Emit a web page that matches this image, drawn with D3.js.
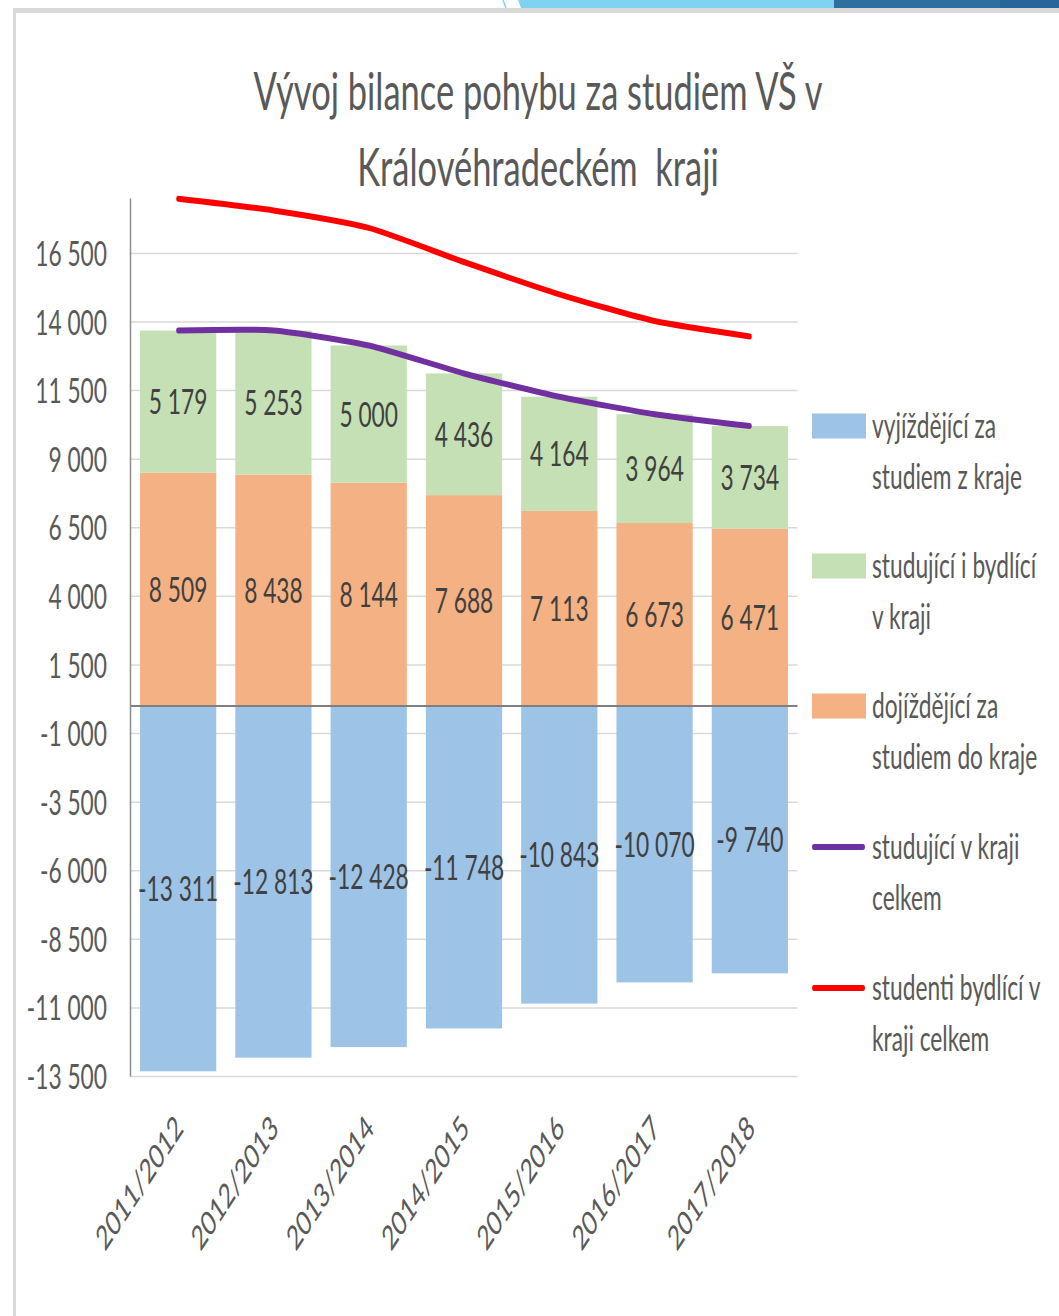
<!DOCTYPE html>
<html>
<head>
<meta charset="utf-8">
<script src="https://cdn.jsdelivr.net/npm/d3@7"></script>
<style>
  html, body { margin: 0; padding: 0; background: #ffffff; }
  svg { display: block; }
  text { font-family: Lato, "Noto Sans", sans-serif; font-weight: 400; }
</style>
</head>
<body>
<script>
// ---------- data ----------
const categories = ["2011/2012", "2012/2013", "2013/2014", "2014/2015", "2015/2016", "2016/2017", "2017/2018"];
const dojizdejici = [8509, 8438, 8144, 7688, 7113, 6673, 6471];        // orange
const studujiciBydlici = [5179, 5253, 5000, 4436, 4164, 3964, 3734];  // green
const vyjizdejici = [-13311, -12813, -12428, -11748, -10843, -10070, -9740]; // blue
const studujiciCelkem = [13688, 13691, 13144, 12124, 11277, 10637, 10205];  // purple line
const bydliciCelkem = [18490, 18066, 17428, 16184, 15007, 14034, 13474];    // red line
const yTicks = [-13500, -11000, -8500, -6000, -3500, -1000, 1500, 4000, 6500, 9000, 11500, 14000, 16500];
const titleLines = ["Vývoj bilance pohybu za studiem VŠ v", "Královéhradeckém  kraji"];
const legendItems = [
  { lines: ["vyjíždějící za", "studiem z kraje"], type: "rect", color: "#9DC3E6" },
  { lines: ["studující i bydlící", "v kraji"], type: "rect", color: "#C5E0B4" },
  { lines: ["dojíždějící za", "studiem do kraje"], type: "rect", color: "#F4B183" },
  { lines: ["studující v kraji", "celkem"], type: "line", color: "#7030A0" },
  { lines: ["studenti bydlící v", "kraji celkem"], type: "line", color: "#FF0000" }
];

// ---------- layout ----------
const W = 1059, H = 1316;
const S = 0.65; // horizontal squeeze of the original picture
const fmt = d3.formatLocale({ decimal: ",", thousands: " ", grouping: [3], currency: ["", ""] }).format(",d");

const svg = d3.select("body").append("svg").attr("width", W).attr("height", H);

// slide decoration
svg.append("rect").attr("x", 13).attr("y", 8).attr("width", W - 13).attr("height", 5).attr("fill", "#d9d9d9");
svg.append("rect").attr("x", 13).attr("y", 8).attr("width", 3).attr("height", H - 8).attr("fill", "#d9d9d9");
svg.append("path").attr("d", "M518,0 L834,0 L834,8 L521,8 Z").attr("fill", "#7fd3f0");
svg.append("path").attr("d", "M503,0 L506,8").attr("stroke", "#7fd3f0").attr("stroke-width", 1.5);
svg.append("rect").attr("x", 834).attr("y", 0).attr("width", 166).attr("height", 8).attr("fill", "#2e6fa0");
svg.append("rect").attr("x", 1000).attr("y", 0).attr("width", 59).attr("height", 8).attr("fill", "#28659a");

const g = svg.append("g").attr("transform", `scale(${S},1)`);

const left = 130.5 / S, right = 797.5 / S;
const x = d3.scaleBand().domain(categories).range([left, right]).paddingInner(0.2).paddingOuter(0.1);
const y = d3.scaleLinear().domain([-13500, 18500]).range([1076.5, 198.5]);
const bw = x.bandwidth();
const cx = c => x(c) + bw / 2;

// title
g.append("g").selectAll("text").data(titleLines).join("text")
  .attr("x", 538 / S).attr("y", (d, i) => 110 + i * 76)
  .attr("text-anchor", "middle").attr("font-size", 53).attr("fill", "#595959")
  .attr("xml:space", "preserve")
  .text(d => d);

// gridlines
g.append("g").selectAll("line").data(yTicks).join("line")
  .attr("x1", left).attr("x2", right)
  .attr("y1", d => y(d)).attr("y2", d => y(d))
  .attr("stroke", "#d9d9d9").attr("stroke-width", 1.5);

// bars
const bars = g.append("g");
bars.selectAll(".orange").data(categories).join("rect").attr("class", "orange")
  .attr("x", d => x(d)).attr("width", bw)
  .attr("y", (d, i) => y(dojizdejici[i])).attr("height", (d, i) => y(0) - y(dojizdejici[i]))
  .attr("fill", "#F4B183");
bars.selectAll(".green").data(categories).join("rect").attr("class", "green")
  .attr("x", d => x(d)).attr("width", bw)
  .attr("y", (d, i) => y(dojizdejici[i] + studujiciBydlici[i]))
  .attr("height", (d, i) => y(dojizdejici[i]) - y(dojizdejici[i] + studujiciBydlici[i]))
  .attr("fill", "#C5E0B4");
bars.selectAll(".blue").data(categories).join("rect").attr("class", "blue")
  .attr("x", d => x(d)).attr("width", bw)
  .attr("y", y(0)).attr("height", (d, i) => y(vyjizdejici[i]) - y(0))
  .attr("fill", "#9DC3E6");

// zero line and y axis line
g.append("line").attr("x1", left).attr("x2", right).attr("y1", y(0)).attr("y2", y(0))
  .attr("stroke", "#7f7f7f").attr("stroke-width", 2);
g.append("line").attr("x1", left).attr("x2", left).attr("y1", y(18500)).attr("y2", y(-13500))
  .attr("stroke", "#8c8c8c").attr("stroke-width", 2.3);

// data labels
const labels = g.append("g").attr("font-size", 35).attr("fill", "#404040").attr("text-anchor", "middle");
labels.selectAll(".lo").data(categories).join("text").attr("class", "lo")
  .attr("x", d => cx(d)).attr("y", (d, i) => y(dojizdejici[i] / 2)).attr("dy", "0.36em")
  .text((d, i) => fmt(dojizdejici[i]));
labels.selectAll(".lg").data(categories).join("text").attr("class", "lg")
  .attr("x", d => cx(d)).attr("y", (d, i) => y(dojizdejici[i] + studujiciBydlici[i] / 2)).attr("dy", "0.36em")
  .text((d, i) => fmt(studujiciBydlici[i]));
labels.selectAll(".lb").data(categories).join("text").attr("class", "lb")
  .attr("x", d => cx(d)).attr("y", (d, i) => y(vyjizdejici[i] / 2)).attr("dy", "0.36em")
  .text((d, i) => fmt(vyjizdejici[i]).replace("−", "-"));

// lines
const lineGen = d3.line().x((d, i) => cx(categories[i])).y(d => y(d)).curve(d3.curveCardinal.tension(0.4));
g.append("path").datum(studujiciCelkem).attr("d", lineGen)
  .attr("fill", "none").attr("stroke", "#7030A0").attr("stroke-width", 6).attr("stroke-linecap", "round");
g.append("path").datum(bydliciCelkem).attr("d", lineGen)
  .attr("fill", "none").attr("stroke", "#FF0000").attr("stroke-width", 6).attr("stroke-linecap", "round");

// y tick labels
g.append("g").selectAll("text").data(yTicks).join("text")
  .attr("x", 107 / S).attr("y", d => y(d)).attr("dy", "0.36em")
  .attr("text-anchor", "end").attr("font-size", 35).attr("fill", "#595959")
  .text(d => fmt(d).replace("−", "-"));

// x tick labels
g.append("g").selectAll("text").data(categories).join("text")
  .attr("transform", d => `translate(${cx(d) + 10},${1130}) rotate(-45)`)
  .attr("text-anchor", "end").attr("font-size", 34).attr("fill", "#595959")
  .text(d => d);

// legend
const lg = g.append("g");
const centers = [426, 566, 706, 847, 988];
legendItems.forEach((it, i) => {
  const cy = centers[i];
  if (it.type === "rect") {
    lg.append("rect").attr("x", 812 / S).attr("y", cy - 12.5).attr("width", 54 / S).attr("height", 25).attr("fill", it.color);
  } else {
    lg.append("line").attr("x1", 814 / S).attr("x2", 863 / S).attr("y1", cy).attr("y2", cy)
      .attr("stroke", it.color).attr("stroke-width", 6).attr("stroke-linecap", "round");
  }
  lg.append("g").selectAll("text").data(it.lines).join("text")
    .attr("x", 872 / S).attr("y", (d, j) => cy + 12 + j * 51)
    .attr("font-size", 35).attr("fill", "#595959").text(d => d);
});
</script>
</body>
</html>
